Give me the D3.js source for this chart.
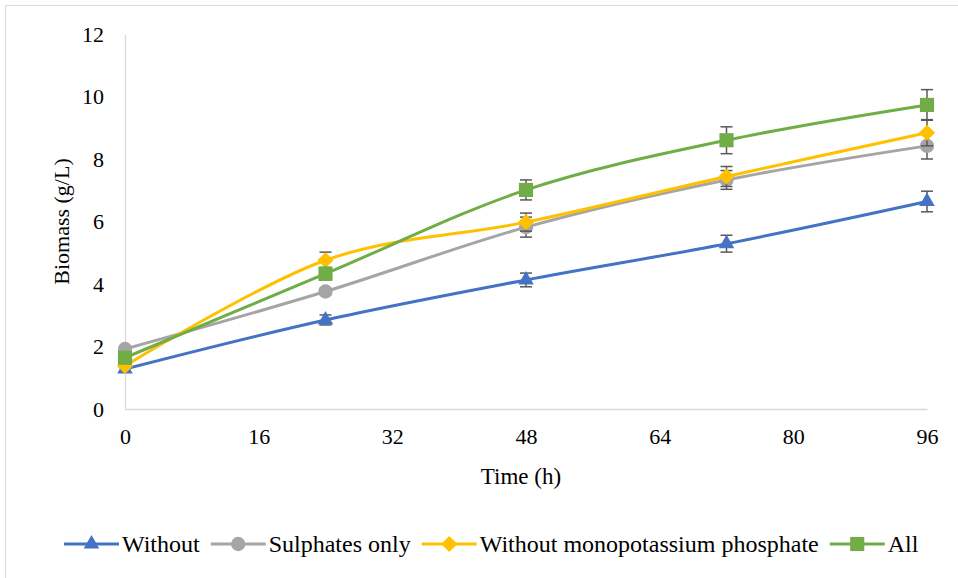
<!DOCTYPE html>
<html lang="en">
<head>
    <meta charset="UTF-8">
    <title>Biomass</title>
    <script src="https://cdnjs.cloudflare.com/ajax/libs/d3/7.8.5/d3.min.js"></script>
    <style>
        body { margin: 0; background: #fff; }
        text { font-family: "Liberation Serif", "Times New Roman", serif; fill: #000; }
    </style>
</head>
<body>
    <div class="chart"></div>
<script>
    // sampling times (h)
    const times = [0, 24, 48, 72, 96]
    const names = ['Without', 'Sulphates only', 'Without monopotassium phosphate', 'All']
    const colors = ['#4472C4', '#A5A5A5', '#FFC000', '#70AD47']

    // biomass g/L
    const without = [1.28, 2.85, 4.13, 5.29, 6.64]
    const sulphates = [1.92, 3.76, 5.82, 7.33, 8.42]
    const noMKP = [1.38, 4.76, 5.98, 7.44, 8.84]
    const all = [1.64, 4.33, 7.01, 8.6, 9.73]

    // standard deviations
    const withoutErr = [0.05, 0.16, 0.22, 0.27, 0.33]
    const sulphatesErr = [0.05, 0.1, 0.32, 0.3, 0.42]
    const noMKPErr = [0.05, 0.26, 0.29, 0.32, 0.42]
    const allErr = [0.05, 0.2, 0.32, 0.43, 0.49]

    const xTicks = [0, 16, 32, 48, 64, 80, 96]
    const yTicks = [0, 2, 4, 6, 8, 10, 12]

    const values = [without, sulphates, noMKP, all]
    const errs = [withoutErr, sulphatesErr, noMKPErr, allErr]

    const width = 958
    const height = 578
    const plot = { left: 125, right: 927, top: 34, bottom: 409 }

    // marker per series: [symbol, size, rotation]
    const markers = [
        [d3.symbolTriangle, 105, 0],
        [d3.symbolCircle, 160, 0],
        [d3.symbolSquare, 130, 45],
        [d3.symbolSquare, 200, 0]
    ]
    function marker(sel, i) {
        sel.attr('d', d3.symbol().type(markers[i][0]).size(markers[i][1]))
            .attr('fill', colors[i])
    }

    const svg = d3.select('.chart').append('svg')
        .attr('width', width)
        .attr('height', height)

    svg.append('rect')
        .attr('x', 5.5).attr('y', 5.5)
        .attr('width', width).attr('height', height)
        .attr('fill', 'none')
        .attr('stroke', '#d9d9d9')

    const x = d3.scaleLinear().domain([0, 96]).range([plot.left, plot.right])
    const y = d3.scaleLinear().domain([0, 12]).range([plot.bottom, plot.top])

    // axes
    svg.append('g')
        .attr('transform', `translate(0, ${plot.bottom})`)
        .call(d3.axisBottom(x).tickValues(xTicks).tickSize(0).tickPadding(19))
    svg.append('g')
        .attr('transform', `translate(${plot.left}, 0)`)
        .call(d3.axisLeft(y).tickValues(yTicks).tickSize(0).tickPadding(21))
    svg.selectAll('.domain').attr('stroke', '#d9d9d9').attr('stroke-width', 1.3)
    svg.selectAll('.tick text')
        .style('font-family', '"Liberation Serif", serif')
        .style('font-size', '22px')
        .attr('fill', '#000')

    svg.append('text')
        .attr('x', (plot.left + plot.right) / 2 - 5)
        .attr('y', 484)
        .attr('text-anchor', 'middle')
        .style('font-size', '23px')
        .text('Time (h)')

    svg.append('text')
        .attr('transform', `translate(69, ${(plot.top + plot.bottom) / 2}) rotate(-90)`)
        .attr('text-anchor', 'middle')
        .style('font-size', '22px')
        .text('Biomass (g/L)')

    const line = d3.line()
        .x((d) => x(d[0]))
        .y((d) => y(d[1]))
        .curve(d3.curveCardinal.tension(0))

    values.forEach((vals, i) => {
        const pts = times.map((t, j) => [t, vals[j], errs[i][j]])
        const g = svg.append('g')
        g.append('path')
            .datum(pts)
            .attr('d', line)
            .attr('fill', 'none')
            .attr('stroke', colors[i])
            .attr('stroke-width', 3)

        // error bars
        const eb = g.selectAll('.err').data(pts).enter().append('g')
        eb.append('line')
            .attr('x1', (d) => x(d[0])).attr('x2', (d) => x(d[0]))
            .attr('y1', (d) => y(d[1] - d[2])).attr('y2', (d) => y(d[1] + d[2]))
            .attr('stroke', '#595959').attr('stroke-width', 1.5)
        ;[-1, 1].forEach((s) => {
            eb.append('line')
                .attr('x1', (d) => x(d[0]) - 6).attr('x2', (d) => x(d[0]) + 6)
                .attr('y1', (d) => y(d[1] + s * d[2])).attr('y2', (d) => y(d[1] + s * d[2]))
                .attr('stroke', '#595959').attr('stroke-width', 1.5)
        })

        g.selectAll('.mark').data(pts).enter().append('path')
            .call(marker, i)
            .attr('transform', (d) => `translate(${x(d[0])}, ${y(d[1])}) rotate(${markers[i][2]})`)
    })

    // legend
    const legend = svg.append('g').attr('transform', 'translate(64, 544)')
    let lx = 0
    names.forEach((name, i) => {
        const item = legend.append('g').attr('transform', `translate(${lx}, 0)`)
        item.append('line')
            .attr('x1', 0).attr('x2', 55)
            .attr('stroke', colors[i]).attr('stroke-width', 3)
        item.append('path')
            .call(marker, i)
            .attr('transform', `translate(27.5, 0) rotate(${markers[i][2]})`)
        const t = item.append('text')
            .attr('x', 58)
            .attr('dy', '0.35em')
            .style('font-size', '24px')
            .text(name)
        lx += 58 + t.node().getComputedTextLength() + 11
    })
</script>
</body>
</html>
